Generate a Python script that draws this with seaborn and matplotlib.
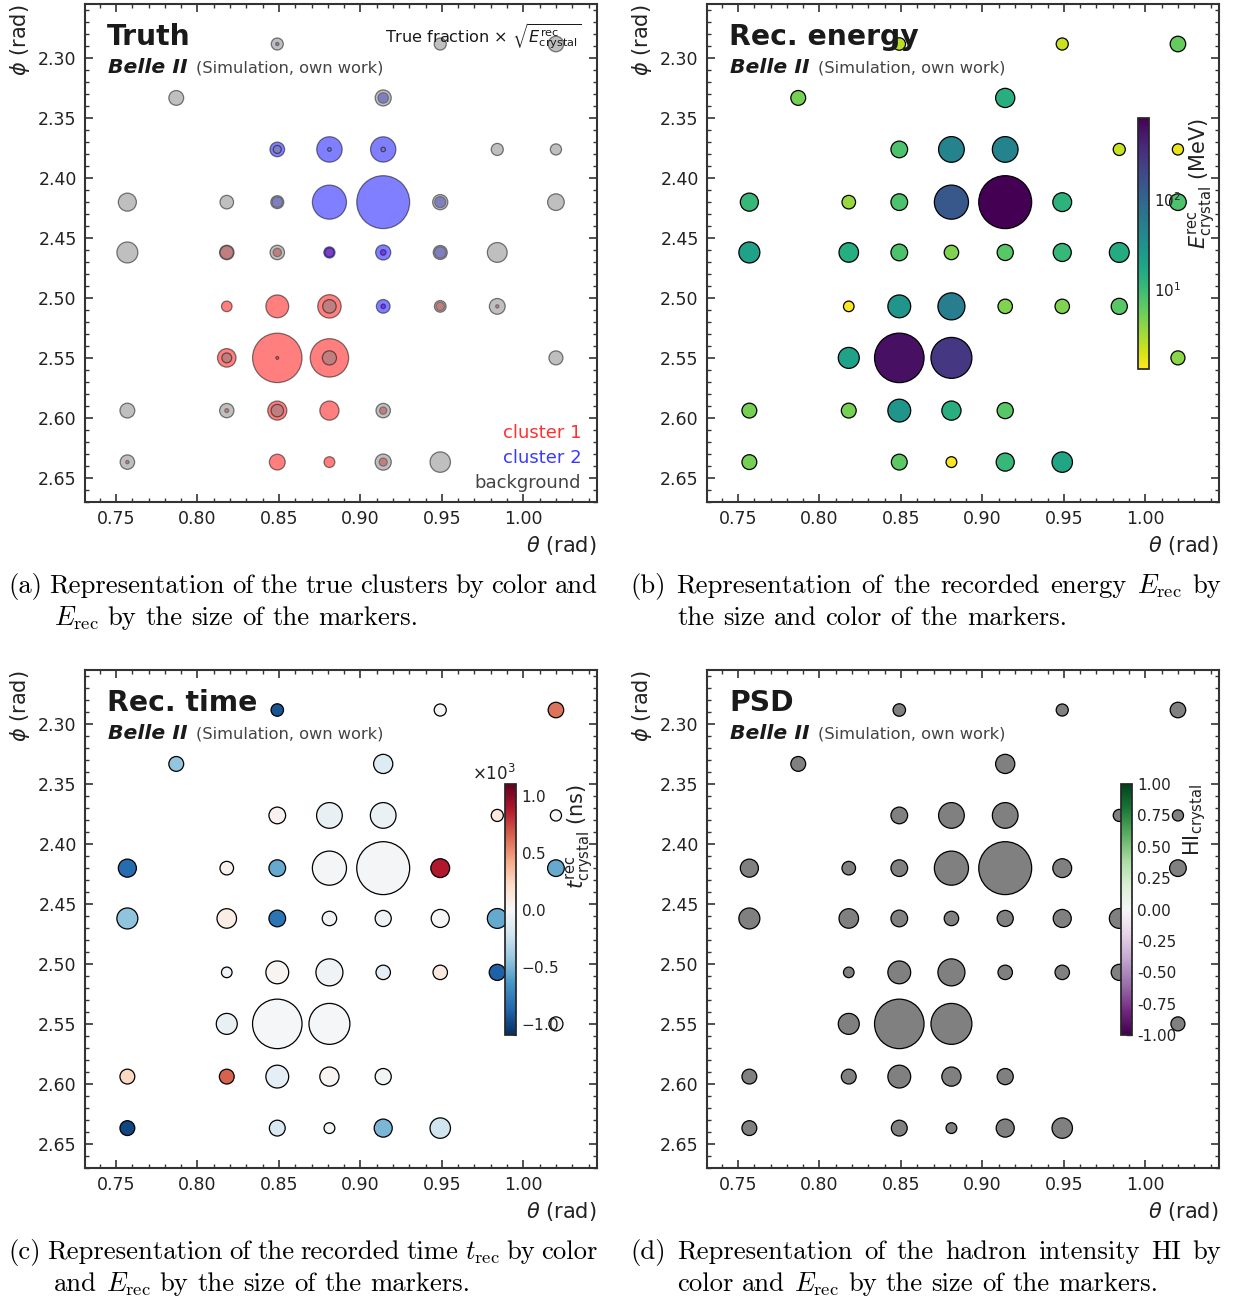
import numpy as np
import pandas as pd
import matplotlib
matplotlib.use("Agg")
import matplotlib.pyplot as plt
import seaborn as sns
from matplotlib.colors import LogNorm, Normalize
from matplotlib.cm import ScalarMappable
from matplotlib.ticker import (AutoMinorLocator, MultipleLocator,
                               FormatStrFormatter, ScalarFormatter, LogLocator)

# ---------------------------------------------------------------- data
theta = [0.849, 0.949, 1.020,
         0.787, 0.914,
         0.849, 0.881, 0.914, 0.984, 1.020,
         0.757, 0.818, 0.849, 0.881, 0.914, 0.949, 1.020,
         0.757, 0.818, 0.849, 0.881, 0.914, 0.949, 0.984,
         0.818, 0.849, 0.881, 0.914, 0.949, 0.984,
         0.818, 0.849, 0.881, 1.020,
         0.757, 0.818, 0.849, 0.881, 0.914,
         0.757, 0.849, 0.881, 0.914, 0.949]
phi = [2.288, 2.288, 2.288,
       2.333, 2.333,
       2.376, 2.376, 2.376, 2.376, 2.376,
       2.420, 2.420, 2.420, 2.420, 2.420, 2.420, 2.420,
       2.462, 2.462, 2.462, 2.462, 2.462, 2.462, 2.462,
       2.507, 2.507, 2.507, 2.507, 2.507, 2.507,
       2.550, 2.550, 2.550, 2.550,
       2.594, 2.594, 2.594, 2.594, 2.594,
       2.637, 2.637, 2.637, 2.637, 2.637]
energy = [2.5, 2.2, 6.0,
          5.0, 14.0,
          8.0, 45.0, 45.0, 2.2, 1.6,
          11.0, 3.5, 8.0, 140.0, 810.0, 13.0, 8.0,
          20.0, 15.0, 8.0, 4.5, 7.0, 11.0, 16.0,
          1.3, 28.0, 55.0, 4.5, 4.5, 7.0,
          20.0, 620.0, 290.0, 4.0,
          5.0, 5.0, 28.0, 14.0, 7.0,
          5.0, 6.5, 1.4, 11.0, 18.0]
time_ns = [-950, -10, 600,
           -430, -150,
           50, -80, -70, 110, -10,
           -850, 50, -560, -20, -20, 880, -560,
           -440, 80, -800, -50, -60, 0, -560,
           -40, 20, -50, -110, 110, -900,
           -80, -10, -10, -10,
           230, 650, -110, 20, -30,
           -1000, -180, -30, -500, -220]
frac_c1 = [0, 0, 0,
           0, 0,
           0, 0, 0, 0, 0,
           0, 0, 0, 0, 0, 0, 0,
           0, 0.45, 0.25, 0.40, 0.12, 0, 0,
           1.0, 1.0, 0.75, 0.10, 0.35, 0.04,
           0.78, 0.997, 0.88, 0,
           0, 0.07, 0.70, 1.0, 0.20,
           0.05, 1.0, 1.0, 0.20, 0]
frac_c2 = [0.07, 0, 0,
           0, 0.30,
           0.77, 0.98, 0.97, 0, 0,
           0, 0, 0.40, 1.0, 1.0, 0.35, 0,
           0, 0, 0, 0.60, 0.88, 0.40, 0,
           0, 0, 0, 0.90, 0, 0,
           0, 0, 0, 0,
           0, 0, 0, 0, 0,
           0, 0, 0, 0, 0]
frac_bg = [0.93, 1.0, 1.0,
           1.0, 0.70,
           0.23, 0.02, 0.03, 1.0, 1.0,
           1.0, 1.0, 0.60, 0, 0, 0.65, 1.0,
           1.0, 0.55, 0.75, 0, 0, 0.60, 1.0,
           0, 0, 0.25, 0, 0.65, 0.96,
           0.22, 0.003, 0.12, 1.0,
           1.0, 0.93, 0.30, 0, 0.80,
           0.95, 0, 0, 0.80, 1.0]

cluster_names = ["cluster 1", "cluster 2", "background"]
x_ticks = [0.75, 0.80, 0.85, 0.90, 0.95, 1.00]
y_ticks = [2.30, 2.35, 2.40, 2.45, 2.50, 2.55, 2.60, 2.65]

df = pd.DataFrame({"theta": theta, "phi": phi, "E": energy, "t": time_ns,
                   "f1": frac_c1, "f2": frac_c2, "fb": frac_bg})
SIZE_K = 51.0
df["s"] = SIZE_K * np.sqrt(df["E"])

# ---------------------------------------------------------------- style
sns.set_theme(style="ticks")
plt.rcParams["font.family"] = ["DejaVu Sans"]
plt.rcParams["mathtext.fontset"] = "dejavusans"
plt.rcParams["axes.unicode_minus"] = True

W, H = 1233, 1302
fig = plt.figure(figsize=(W / 100, H / 100), dpi=100)
fig.patch.set_facecolor("white")


def fx(x):
    return x / W


def fy(y):
    return 1 - y / H


def add_ax(x0, y0, x1, y1):
    return fig.add_axes([fx(x0), fy(y1), (x1 - x0) / W, (y1 - y0) / H])


def style(ax):
    ax.set_xlim(0.731, 1.0452)
    ax.set_ylim(2.6703, 2.2546)
    ax.set_xticks(x_ticks)
    ax.set_yticks(y_ticks)
    ax.xaxis.set_minor_locator(AutoMinorLocator(5))
    ax.yaxis.set_minor_locator(AutoMinorLocator(5))
    ax.xaxis.set_major_formatter(FormatStrFormatter("%.2f"))
    ax.yaxis.set_major_formatter(FormatStrFormatter("%.2f"))
    ax.tick_params(which="both", direction="in", top=True, right=True,
                   color="#333333", labelcolor="#222222", labelsize=12.5)
    ax.tick_params(which="major", length=6, width=1.2, pad=6)
    ax.tick_params(which="minor", length=3, width=1.0)
    for sp in ax.spines.values():
        sp.set_color("#333333")
        sp.set_linewidth(1.5)
    ax.set_xlabel(r"$\theta$ (rad)", loc="right", fontsize=15, color="#222222")
    ax.set_ylabel(r"$\phi$ (rad)", loc="top", fontsize=15, color="#222222")
    ax.set_facecolor("white")


def headers(ax, title):
    ax.text(0.043, 0.918, title, transform=ax.transAxes, fontsize=20.3,
            fontweight="bold", color="#1a1a1a", va="baseline", ha="left")
    ax.text(0.045, 0.862, "Belle II", transform=ax.transAxes, fontsize=14.7,
            fontweight="bold", fontstyle="italic", color="#1a1a1a",
            va="baseline", ha="left")
    ax.text(0.216, 0.862, "(Simulation, own work)", transform=ax.transAxes,
            fontsize=11.7, color="#444444", va="baseline", ha="left")


def style_cbar(cax, label):
    cax.tick_params(which="both", direction="in", labelsize=11,
                    color="#333333", labelcolor="#222222")
    cax.tick_params(which="major", length=4, width=1)
    cax.tick_params(which="minor", length=2, width=0.8)
    cax.set_ylabel(label, loc="top", fontsize=15, color="#222222")


boxes = {"a": (85, 4, 597, 502), "b": (707, 4, 1219, 502),
         "c": (85, 670, 597, 1168), "d": (707, 670, 1219, 1168)}

# ---------------------------------------------------------------- (a) Truth
ax_a = add_ax(*boxes["a"])
cls_cols = ["#ff0000", "#0000ff", "#808080"]
for fcol, col in zip(["f1", "f2", "fb"], cls_cols):
    sub = df[df[fcol] > 0]
    sns.scatterplot(data=sub, x="theta", y="phi", ax=ax_a, color=col,
                    s=sub[fcol].values * sub["s"].values, alpha=0.5,
                    edgecolor="black", linewidth=0.9, legend=False)
style(ax_a)
headers(ax_a, "Truth")
ax_a.text(0.969, 0.922,
          r"True fraction $\times$ $\sqrt{E^{\mathrm{rec}}_{\mathrm{crystal}}}$",
          transform=ax_a.transAxes, fontsize=11.65, color="#1a1a1a",
          ha="right", va="baseline")
for name, col, yy in zip(cluster_names, ["#ff3030", "#3a3aff", "#444444"],
                         [0.128, 0.078, 0.028]):
    ax_a.text(0.969, yy, name, transform=ax_a.transAxes, fontsize=13,
              color=col, ha="right", va="baseline")

# ---------------------------------------------------------------- (b) energy
ax_b = add_ax(*boxes["b"])
enorm = LogNorm(vmin=min(energy), vmax=max(energy))
ecmap = plt.get_cmap("viridis_r")
sns.scatterplot(data=df, x="theta", y="phi", hue="E", hue_norm=enorm,
                palette=ecmap, s=df["s"].values, edgecolor="black",
                linewidth=0.9, ax=ax_b, legend=False)
style(ax_b)
headers(ax_b, "Rec. energy")
cax_b = fig.add_axes([fx(1138), fy(369), 11 / W, 251 / H])
cb_b = fig.colorbar(ScalarMappable(norm=enorm, cmap=ecmap), cax=cax_b)
cax_b.yaxis.set_minor_locator(LogLocator(subs=np.arange(2, 10)))
style_cbar(cax_b, r"$E^{\mathrm{rec}}_{\mathrm{crystal}}$ (MeV)")

# ---------------------------------------------------------------- (c) time
ax_c = add_ax(*boxes["c"])
tnorm = Normalize(vmin=-1100, vmax=1100)
tcmap = plt.get_cmap("RdBu_r")
sns.scatterplot(data=df, x="theta", y="phi", hue="t", hue_norm=tnorm,
                palette=tcmap, s=df["s"].values, edgecolor="black",
                linewidth=0.9, ax=ax_c, legend=False)
style(ax_c)
headers(ax_c, "Rec. time")
cax_c = fig.add_axes([fx(505), fy(1035), 11 / W, 251 / H])
cb_c = fig.colorbar(ScalarMappable(norm=tnorm, cmap=tcmap), cax=cax_c)
cb_c.locator = MultipleLocator(500)
fmt = ScalarFormatter(useMathText=True)
fmt.set_powerlimits((0, 0))
cb_c.formatter = fmt
cb_c.update_ticks()
cax_c.yaxis.set_minor_locator(AutoMinorLocator(5))
cax_c.yaxis.get_offset_text().set_fontsize(12)
style_cbar(cax_c, r"$t^{\mathrm{rec}}_{\mathrm{crystal}}$ (ns)")

# ---------------------------------------------------------------- (d) PSD
ax_d = add_ax(*boxes["d"])
sns.scatterplot(data=df, x="theta", y="phi", color="#808080",
                s=df["s"].values, edgecolor="black", linewidth=0.9,
                ax=ax_d, legend=False)
style(ax_d)
headers(ax_d, "PSD")
hnorm = Normalize(vmin=-1, vmax=1)
cax_d = fig.add_axes([fx(1121), fy(1035), 11 / W, 251 / H])
cb_d = fig.colorbar(ScalarMappable(norm=hnorm, cmap=plt.get_cmap("PRGn")),
                    cax=cax_d)
cb_d.locator = MultipleLocator(0.25)
cb_d.formatter = FormatStrFormatter("%.2f")
cb_d.update_ticks()
cax_d.yaxis.set_minor_locator(AutoMinorLocator(5))
style_cbar(cax_d, r"HI$_{\mathrm{crystal}}$")

# ---------------------------------------------------------------- captions
CAP_FS = 19.2
renderer = fig.canvas.get_renderer()


def place_words(text, x0, y, x1=None):
    words = text.split(" ")
    ts = [fig.text(0, 0, w, fontsize=CAP_FS, family="cmr10",
                   math_fontfamily="cm", va="baseline", ha="left",
                   color="black") for w in words]
    ws = [t.get_window_extent(renderer).width for t in ts]
    if x1 is None:
        gap = CAP_FS * 100 / 72 * 0.333
    else:
        gap = (x1 - x0 - sum(ws)) / (len(ws) - 1)
    x = x0
    for t, w in zip(ts, ws):
        t.set_position((fx(x), fy(y)))
        x += w + gap


captions = [
    ("(a) Representation of the true clusters by color and",
     r"$E_{\mathrm{rec}}$ by the size of the markers.", 8, 598, 54, 593),
    (r"(b) Representation of the recorded energy $E_{\mathrm{rec}}$ by",
     "the size and color of the markers.", 630, 1221, 677, 593),
    (r"(c) Representation of the recorded time $t_{\mathrm{rec}}$ by color",
     r"and $E_{\mathrm{rec}}$ by the size of the markers.", 8, 598, 54, 1259),
    ("(d) Representation of the hadron intensity HI by",
     r"color and $E_{\mathrm{rec}}$ by the size of the markers.", 630, 1221, 677, 1259),
]
for l1, l2, x0, x1, x2, yb in captions:
    place_words(l1, x0, yb, x1)
    place_words(l2, x2, yb + 32)

fig.savefig("out.png", dpi=100, facecolor="white")
